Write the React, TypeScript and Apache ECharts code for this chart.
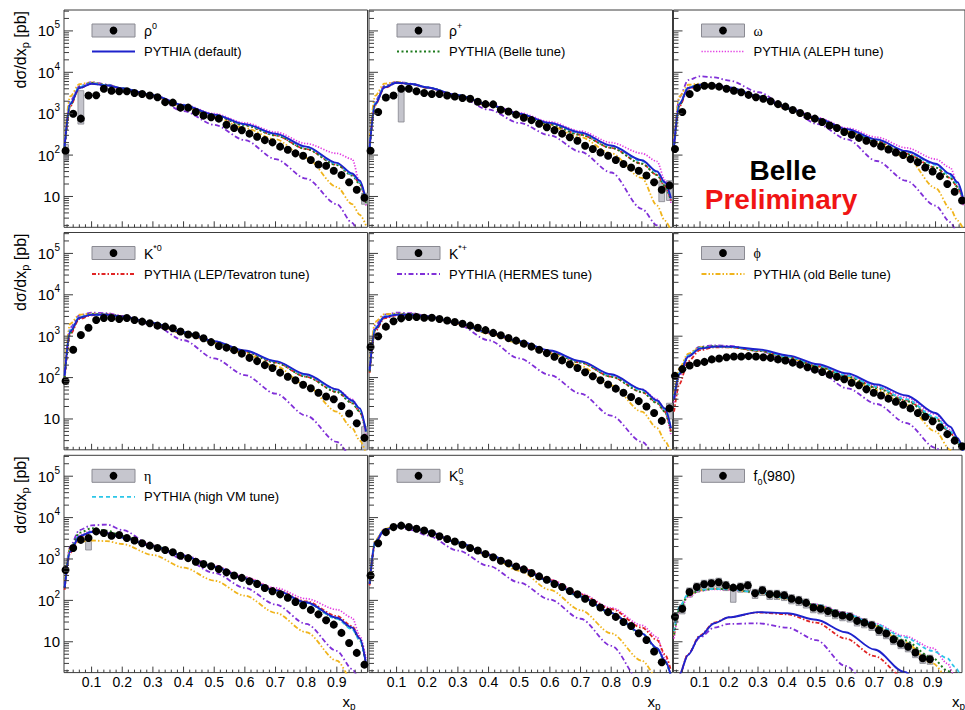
import React, { useEffect, useRef } from 'react';
import * as echarts from 'echarts';

// ---------- data ----------
const XP = [0.015, 0.04, 0.065, 0.09, 0.115, 0.14, 0.165, 0.19, 0.215, 0.24, 0.265, 0.29, 0.315, 0.34, 0.365, 0.39, 0.415, 0.44, 0.465, 0.49, 0.515, 0.54, 0.565, 0.59, 0.615, 0.64, 0.665, 0.69, 0.715, 0.74, 0.765, 0.79, 0.815, 0.84, 0.865, 0.89, 0.915, 0.94, 0.965, 0.99];
const CX = [0.012, 0.03, 0.06, 0.1, 0.15, 0.2, 0.3, 0.4, 0.5, 0.6, 0.7, 0.8, 0.9, 0.95, 0.975, 0.995];

const RHO0 = [127, 1000, 760, 2750, 2800, 4000, 3600, 3500, 3500, 3150, 3000, 2750, 2500, 1900, 1850, 1400, 1400, 1100, 900, 820, 760, 540, 450, 400, 330, 277, 230, 203, 160, 134, 110, 96, 76, 59, 55, 42, 33, 22, 14.5, 9.3];
const RHOP = [127, 1100, 2450, 2750, 4000, 4000, 3500, 3150, 3000, 3000, 2750, 2600, 2400, 2300, 1950, 1700, 1680, 1250, 1130, 950, 800, 700, 570, 470, 400, 330, 270, 222, 168, 140, 116, 96, 76, 61, 50, 42, 32, 22, 14.5, 18.5];
const OMEGA = [140, 1100, 3000, 4200, 4750, 4750, 4500, 4000, 3600, 3300, 2850, 2500, 2300, 2000, 1700, 1480, 1230, 1040, 880, 760, 630, 520, 450, 360, 310, 260, 222, 192, 162, 137, 116, 100, 80, 67, 50, 40, 31, 20, 13, 8];
const KST0 = [83, 470, 1070, 1600, 2450, 2750, 2750, 2600, 2750, 2450, 2250, 2050, 1800, 1700, 1550, 1300, 1100, 1050, 890, 720, 580, 530, 460, 380, 300, 250, 200, 170, 132, 105, 86, 67, 55, 43, 35, 30, 20.5, 13.6, 7.9, 3.5];
const KSTP = [550, 1000, 1700, 2300, 2700, 2900, 2900, 2800, 2800, 2600, 2400, 2200, 2000, 1800, 1600, 1400, 1200, 1050, 900, 780, 660, 560, 470, 390, 320, 260, 210, 170, 135, 108, 86, 68, 54, 43, 34, 27, 20, 14, 9, 18];
const PHI = [110, 160, 195, 225, 240, 275, 290, 310, 323, 323, 330, 323, 310, 300, 275, 258, 230, 206, 178, 156, 137, 118, 104, 91, 75, 65, 52, 43, 37, 31, 26, 22, 18, 14, 11.3, 8.8, 6.3, 4.3, 3, 2.2];
const ETA = [540, 1850, 2900, 3200, 4650, 4250, 3650, 3800, 3200, 2800, 2400, 2100, 1850, 1650, 1450, 1200, 1050, 860, 760, 665, 570, 475, 400, 350, 290, 250, 200, 167, 140, 116, 91, 76, 59, 46, 33, 26, 16.4, 9.3, 5.4, 2.8];
const K0S = [400, 2400, 4450, 5900, 6400, 5900, 5400, 4900, 4200, 3550, 3050, 2650, 2200, 1850, 1600, 1320, 1100, 910, 790, 660, 560, 460, 380, 315, 250, 210, 168, 140, 110, 87, 67, 52, 40, 30, 24, 16, 11, 5.8, 3.2, null];
const F0 = [40, 63, 160, 210, 245, 260, 275, 230, 203, 210, 230, 148, 175, 140, 140, 132, 110, 100, 87, 67, 63, 55, 48, 43, 40, 32, 29, 25, 19, 15.8, 11.4, 9.1, 7.6, 5.5, 4.0, 3.8, null, null, null, null];

// systematic boxes: [point index, low, high]
const RHO0_BOXES = [[0, 75, 180], [2, 560, 3600], [39, 6.5, 12]];
const RHOP_BOXES = [[4, 630, 3700], [38, 7.5, 24], [39, 8, 24]];
const KST0_BOXES = [[39, 1.8, 6.5]];
const KSTP_BOXES = [[39, 10, 24]];
const ETA_BOXES = [[3, 1650, 3300]];
const F0_BOXES = [[8, 90, 230]];

// PYTHIA curves, sampled at CX
const RHO0_MC = {
  def: [160, 1700, 4200, 5300, 4800, 4100, 2800, 1600, 950, 560, 330, 160, 65, 36, 24, 8],
  belle: [150, 1600, 4300, 5500, 4900, 4100, 2750, 1550, 900, 520, 300, 140, 58, 32, 20, 7],
  aleph: [150, 1700, 4300, 5500, 4900, 4100, 2800, 1650, 1000, 600, 360, 190, 110, 80, 22, 6],
  lep: [140, 1500, 4100, 5300, 4800, 4000, 2750, 1550, 900, 530, 300, 140, 58, 33, 21, 7],
  hermes: [180, 2000, 4600, 5800, 5100, 4100, 2600, 1150, 540, 230, 80, 27, 6.5, 2.3, 1.2, 0.6],
  oldBelle: [250, 2600, 5200, 5700, 4900, 4000, 2600, 1450, 820, 450, 240, 85, 17, 6.5, 3.6, 2],
  highVM: [170, 1800, 4400, 5400, 4900, 4100, 2800, 1600, 940, 550, 320, 155, 62, 34, 22, 8],
};
const RHOP_MC = {
  def: [150, 1700, 4300, 5600, 5200, 4300, 2800, 1650, 1000, 600, 350, 170, 75, 40, 22, 9],
  belle: [150, 1700, 4400, 5700, 5200, 4300, 2750, 1600, 950, 550, 310, 150, 62, 33, 18, 8],
  aleph: [150, 1800, 4400, 5700, 5200, 4300, 2800, 1700, 1050, 640, 380, 200, 110, 70, 25, 7],
  lep: [140, 1600, 4200, 5500, 5100, 4200, 2750, 1600, 950, 560, 310, 150, 62, 33, 18, 8],
  hermes: [180, 2000, 4700, 5900, 5300, 4300, 2700, 1250, 600, 300, 120, 38, 5, 2, 1, 0.6],
  oldBelle: [260, 2700, 5300, 5800, 5200, 4200, 2700, 1550, 900, 500, 270, 110, 28, 6, 2.6, 1.5],
  highVM: [160, 1800, 4400, 5600, 5200, 4300, 2800, 1650, 990, 590, 340, 165, 72, 38, 21, 9],
};
const OMEGA_MC = {
  def: [170, 1700, 4200, 5000, 4800, 4300, 2600, 1350, 760, 420, 240, 125, 62, 35, 22, 8],
  belle: [150, 1600, 4200, 5100, 4800, 4200, 2550, 1300, 720, 380, 210, 105, 50, 28, 17, 7],
  aleph: [160, 1700, 4300, 5100, 4900, 4300, 2600, 1400, 800, 450, 270, 150, 80, 50, 20, 6],
  lep: [140, 1500, 4000, 4900, 4700, 4200, 2550, 1300, 730, 390, 215, 108, 50, 28, 17, 7],
  hermes: [200, 2500, 6500, 8000, 7500, 6300, 3300, 1300, 560, 240, 72, 24, 6, 2.4, 1.3, 0.7],
  oldBelle: [250, 2600, 5000, 5300, 4900, 4200, 2500, 1300, 700, 370, 190, 90, 16, 5, 2.6, 1.6],
  highVM: [170, 1800, 4300, 5000, 4800, 4300, 2600, 1350, 760, 410, 235, 120, 58, 32, 20, 8],
};
const KST0_MC = {
  def: [110, 1300, 2800, 3300, 3300, 3000, 2100, 1250, 760, 450, 250, 120, 52, 28, 18, 5],
  belle: [100, 1200, 2800, 3400, 3400, 3000, 2050, 1200, 720, 420, 230, 105, 45, 24, 15, 5],
  aleph: [100, 1200, 2700, 3300, 3500, 3100, 2050, 1200, 730, 430, 240, 115, 52, 30, 16, 4],
  lep: [90, 1100, 2600, 3200, 3300, 3000, 2050, 1200, 730, 420, 230, 105, 45, 25, 15, 5],
  hermes: [130, 1600, 3200, 3700, 3600, 3100, 1900, 800, 290, 115, 41, 12, 2.8, 1.2, 0.7, 0.4],
  oldBelle: [180, 2000, 3300, 3500, 3400, 3000, 2000, 1150, 680, 380, 190, 65, 15, 6, 3, 1.5],
  highVM: [120, 1400, 2900, 3300, 3300, 3000, 2100, 1250, 750, 440, 245, 115, 50, 27, 17, 5],
};
const KSTP_MC = {
  def: [150, 1500, 2900, 3300, 3300, 3000, 2100, 1250, 760, 450, 250, 120, 52, 28, 18, 6],
  belle: [140, 1400, 2900, 3400, 3400, 3000, 2050, 1200, 720, 420, 230, 105, 45, 24, 15, 5],
  aleph: [140, 1400, 2800, 3300, 3500, 3100, 2050, 1200, 730, 430, 240, 115, 52, 30, 16, 4],
  lep: [130, 1300, 2700, 3200, 3300, 3000, 2050, 1200, 730, 420, 230, 105, 45, 25, 15, 5],
  hermes: [170, 1800, 3300, 3700, 3600, 3100, 1900, 800, 290, 115, 41, 12, 2.8, 1.2, 0.7, 0.4],
  oldBelle: [220, 2200, 3400, 3500, 3400, 3000, 2000, 1150, 680, 380, 190, 65, 15, 6, 3, 1.5],
  highVM: [160, 1600, 3000, 3300, 3300, 3000, 2100, 1250, 750, 440, 245, 115, 50, 27, 17, 6],
};
const PHI_MC = {
  def: [30, 120, 320, 500, 560, 560, 480, 340, 210, 125, 68, 37, 14, 6.5, 3.5, 1.5],
  belle: [30, 120, 330, 530, 570, 550, 450, 310, 185, 105, 56, 27, 10, 4.5, 2.6, 1.3],
  aleph: [25, 110, 320, 520, 580, 560, 460, 320, 200, 118, 64, 33, 13, 5.5, 3, 1.4],
  lep: [15, 70, 250, 460, 540, 540, 450, 310, 190, 108, 58, 28, 10.5, 4.6, 2.7, 1.3],
  hermes: [30, 130, 360, 560, 600, 580, 440, 270, 142, 55, 23, 8, 2, 0.9, 0.5, 0.3],
  oldBelle: [40, 170, 380, 540, 560, 540, 440, 300, 180, 100, 50, 22, 5, 1.8, 1.2, 0.8],
  highVM: [35, 130, 340, 520, 560, 550, 460, 320, 195, 112, 60, 30, 11, 5, 3, 1.4],
};
const ETA_MC = {
  def: [200, 1500, 3500, 4500, 4200, 3300, 2050, 1200, 650, 340, 175, 90, 38, 22, 12, 3],
  belle: [200, 1700, 4300, 5500, 4800, 3600, 2100, 1200, 650, 340, 175, 88, 37, 21, 11, 3],
  aleph: [200, 1600, 3800, 4800, 4400, 3400, 2100, 1250, 700, 370, 200, 110, 60, 38, 14, 4],
  lep: [180, 1400, 3400, 4500, 4200, 3300, 2100, 1200, 660, 350, 180, 95, 42, 24, 12, 3],
  hermes: [250, 2000, 5000, 6500, 6800, 5000, 2100, 1000, 460, 200, 80, 27, 6, 2.2, 1.2, 0.6],
  oldBelle: [300, 1800, 2600, 2800, 2700, 2300, 1250, 620, 300, 130, 50, 17, 3.5, 1.2, 0.8, 0.5],
  highVM: [220, 1600, 3600, 4600, 4200, 3300, 2050, 1200, 650, 340, 172, 87, 36, 20, 11, 3],
};
const K0S_MC = {
  def: [250, 2500, 5000, 6300, 5700, 4600, 2500, 1270, 620, 290, 125, 50, 16, 7, 3.5, 1.5],
  belle: [250, 2500, 5000, 6300, 5700, 4600, 2500, 1260, 615, 285, 123, 49, 15.5, 6.8, 3.4, 1.5],
  aleph: [250, 2500, 5000, 6300, 5800, 4700, 2550, 1300, 650, 320, 145, 66, 25, 13, 4, 1.5],
  lep: [230, 2400, 4900, 6300, 5700, 4600, 2500, 1280, 640, 310, 140, 62, 22, 11, 5, 2],
  hermes: [300, 2700, 5200, 6000, 5000, 3700, 1600, 680, 270, 105, 36, 8, 1, 0.5, 0.3, 0.2],
  oldBelle: [300, 2800, 5300, 6400, 5700, 4500, 2400, 1200, 520, 180, 58, 16, 3.5, 1.4, 0.8, 0.5],
  highVM: [280, 2600, 5100, 6300, 5700, 4600, 2500, 1270, 620, 290, 125, 50, 16, 7, 3.5, 1.5],
};
const F0_MC = {
  def: [0.3, 1.6, 4.8, 13.5, 28, 39, 52, 49, 34, 17, 6.5, 1.9, 0.4, 0.2, 0.1, 0.1],
  belle: [15, 60, 130, 175, 190, 185, 155, 115, 77, 46, 25, 11, 4, 2, 1.5, 1],
  aleph: [12, 55, 120, 170, 185, 180, 155, 115, 80, 50, 28, 14, 7, 3, 1.5, 1],
  lep: [0.3, 1.6, 5, 14, 29, 39, 51, 46, 29, 12, 4.5, 1.4, 0.4, 0.2, 0.1, 0.1],
  hermes: [0.3, 1.5, 5, 12.6, 22, 27, 28, 22, 11, 2.6, 0.6, 0.3, 0.2, 0.2, 0.1, 0.1],
  oldBelle: [14, 60, 130, 175, 190, 185, 150, 110, 74, 44, 24, 10, 3, 1.4, 1, 0.8],
  highVM: [18, 70, 140, 180, 190, 185, 155, 115, 78, 48, 27, 13, 6, 4, 2.5, 1.5],
};

// axis tick labels / positions
const X_LABELS = ['0.1', '0.2', '0.3', '0.4', '0.5', '0.6', '0.7', '0.8', '0.9'];
const Y_MAJOR = [10, 100, 1000, 10000, 100000];
const Y_MANTISSA = [2, 3, 4, 5, 6, 7, 8, 9];
const Y_DECADES = [1, 10, 100, 1000, 10000, 100000];

// ---------- styling / layout ----------
const FONT = '"Liberation Sans", Arial, Helvetica, sans-serif';
const SERIF = '"Liberation Serif", "Times New Roman", serif';
const XMIN = 0.01, XMAX = 1.0, YMIN = 1.8, YMAX = 320000;
const COL_LEFT = [64, 369, 673.5];
const ROW_TOP = [10, 232.5, 455.3];
const FRAME_W = 303.5, FRAME_H = 217.3;
const FRAME_COLOR = '#3c3c3c';

const TUNES = [
  { key: 'def', name: 'PYTHIA (default)', color: '#1e22cc', dash: 'solid', width: 1.9 },
  { key: 'belle', name: 'PYTHIA (Belle tune)', color: '#1d7a1d', dash: [2, 2.5], width: 2 },
  { key: 'aleph', name: 'PYTHIA (ALEPH tune)', color: '#e23ce2', dash: [1.3, 1.6], width: 1.7 },
  { key: 'lep', name: 'PYTHIA (LEP/Tevatron tune)', color: '#e02424', dash: [4, 2, 1.5, 2], width: 1.8 },
  { key: 'hermes', name: 'PYTHIA (HERMES tune)', color: '#8030d8', dash: [5, 2.5, 1.5, 2.5], width: 1.8 },
  { key: 'oldBelle', name: 'PYTHIA (old Belle tune)', color: '#f0b41c', dash: [5, 2, 1.5, 2, 1.5, 2], width: 1.8 },
  { key: 'highVM', name: 'PYTHIA (high VM tune)', color: '#2cc6e8', dash: [4, 3], width: 1.8 },
];
const DRAW_ORDER = ['hermes', 'oldBelle', 'aleph', 'lep', 'belle', 'highVM', 'def'];

const PANELS = [
  { data: RHO0, mc: RHO0_MC, label: 'ρ{sup|0}', font: FONT, tune: 0, sys: 0.1, boxes: RHO0_BOXES },
  { data: RHOP, mc: RHOP_MC, label: 'ρ{sup|+}', font: FONT, tune: 1, sys: 0.1, boxes: RHOP_BOXES },
  { data: OMEGA, mc: OMEGA_MC, label: 'ω', font: SERIF, tune: 2, sys: 0.08, boxes: [] },
  { data: KST0, mc: KST0_MC, label: 'K{sup|*0}', font: FONT, tune: 3, sys: 0.08, boxes: KST0_BOXES },
  { data: KSTP, mc: KSTP_MC, label: 'K{sup|*+}', font: FONT, tune: 4, sys: 0.1, boxes: KSTP_BOXES },
  { data: PHI, mc: PHI_MC, label: 'ϕ', font: SERIF, tune: 5, sys: 0.06, boxes: [] },
  { data: ETA, mc: ETA_MC, label: 'η', font: SERIF, tune: 6, sys: 0.1, boxes: ETA_BOXES },
  { data: K0S, mc: K0S_MC, label: 'K{sup|0}', font: FONT, tune: -1, sys: 0.08, boxes: [], sub: 's' },
  { data: F0, mc: F0_MC, label: 'f{sub|0}(980)', font: FONT, tune: -1, sys: 0.25, boxes: F0_BOXES },
];

function buildTicks() {
  const t: number[][] = [];
  Y_MAJOR.forEach((v) => t.push([XMIN, v, 0]));
  Y_DECADES.forEach((d) => Y_MANTISSA.forEach((m) => {
    const v = d * m;
    if (v > YMIN && v < YMAX) t.push([XMIN, v, 1]);
  }));
  for (let k = 1; k < 50; k++) {
    const v = k * 0.02;
    if (v <= XMIN || v >= XMAX) continue;
    const major = Math.abs(v * 10 - Math.round(v * 10)) < 1e-6;
    t.push([v, YMIN, major ? 2 : 3]);
  }
  return t;
}

function tickRender(params: any, api: any) {
  const p = api.coord([api.value(0), api.value(1)]);
  const t = api.value(2);
  let shape;
  if (t === 0) shape = { x1: p[0], y1: p[1], x2: p[0] + 9, y2: p[1] };
  else if (t === 1) shape = { x1: p[0], y1: p[1], x2: p[0] + 5, y2: p[1] };
  else if (t === 2) shape = { x1: p[0], y1: p[1], x2: p[0], y2: p[1] - 6 };
  else shape = { x1: p[0], y1: p[1], x2: p[0], y2: p[1] - 3 };
  return { type: 'line', shape, style: { stroke: FRAME_COLOR, lineWidth: 1 } };
}

function boxRender(params: any, api: any) {
  const x = api.value(0);
  const p1 = api.coord([x - 0.0095, api.value(3)]);
  const p2 = api.coord([x + 0.0095, api.value(2)]);
  return {
    type: 'rect',
    shape: { x: p1[0], y: p1[1], width: p2[0] - p1[0], height: p2[1] - p1[1] },
    style: { fill: '#c4c4cc', stroke: '#85858d', lineWidth: 0.8 },
  };
}

function yFormatter(v: number) {
  const l = Math.log10(v);
  const e = Math.round(l);
  if (Math.abs(l - e) > 1e-4 || e < 1) return '';
  if (e === 1) return '{b|10}';
  return '{b|10}{sup|' + e + '}';
}

function xFormatter(v: number) {
  const i = Math.round(v * 10) - 1;
  if (Math.abs(v * 10 - Math.round(v * 10)) > 1e-6) return '';
  return X_LABELS[i] || '';
}

function buildOption() {
  const grid: any[] = [], xAxis: any[] = [], yAxis: any[] = [], series: any[] = [], graphic: any[] = [];
  const ticks = buildTicks();
  PANELS.forEach((p, i) => {
    const row = Math.floor(i / 3), col = i % 3;
    const L = COL_LEFT[col], T = ROW_TOP[row];
    grid.push({ left: L, top: T, width: FRAME_W, height: FRAME_H, show: true, borderColor: FRAME_COLOR, borderWidth: 1, backgroundColor: '#ffffff' });
    xAxis.push({
      gridIndex: i, type: 'value', min: XMIN, max: XMAX, splitNumber: 10,
      axisLine: { show: false }, axisTick: { show: false }, splitLine: { show: false },
      axisLabel: { show: row === 2, formatter: xFormatter, fontSize: 14, color: '#000', fontFamily: FONT, margin: 2 },
    });
    yAxis.push({
      gridIndex: i, type: 'log', logBase: 10, min: YMIN, max: YMAX,
      axisLine: { show: false }, axisTick: { show: false }, splitLine: { show: false },
      axisLabel: {
        show: col === 0, formatter: yFormatter, margin: 4, color: '#000', fontFamily: FONT, fontSize: 15,
        rich: {
          b: { fontSize: 15, lineHeight: 22, fontFamily: FONT, color: '#000' },
          sup: { fontSize: 10, lineHeight: 10, verticalAlign: 'top', fontFamily: FONT, color: '#000' },
        },
      },
    });
    // systematic boxes
    const boxData: any[] = [];
    p.data.forEach((v, j) => {
      if (v == null) return;
      const special = p.boxes.find((b) => b[0] === j);
      if (special) boxData.push([XP[j], v, special[1], special[2]]);
      else boxData.push([XP[j], v, v * (1 - p.sys), v * (1 + p.sys)]);
    });
    series.push({ type: 'custom', xAxisIndex: i, yAxisIndex: i, renderItem: boxRender, data: boxData, encode: { x: 0, y: 1 }, clip: true, z: 2, silent: true });
    // PYTHIA curves
    DRAW_ORDER.forEach((k) => {
      const tune = TUNES.find((t) => t.key === k)!;
      series.push({
        type: 'line', xAxisIndex: i, yAxisIndex: i, silent: true, z: 3,
        data: CX.map((x, j) => [x, (p.mc as any)[k][j]]),
        showSymbol: false, symbol: 'none', smooth: 0.3, smoothMonotone: 'x', clip: true,
        lineStyle: { color: tune.color, width: tune.width, type: tune.dash, opacity: 1 },
      });
    });
    // data points
    series.push({
      type: 'scatter', xAxisIndex: i, yAxisIndex: i, silent: true, z: 4,
      data: XP.map((x, j) => [x, p.data[j]]).filter((d) => d[1] != null),
      symbol: 'circle', symbolSize: 8, itemStyle: { color: '#000', opacity: 1 },
    });
    // ticks
    series.push({ type: 'custom', xAxisIndex: i, yAxisIndex: i, renderItem: tickRender, data: ticks, encode: { x: 0, y: 1 }, clip: false, z: 5, silent: true });

    // legend
    graphic.push({ type: 'rect', shape: { x: L + 28, y: T + 14, width: 43, height: 13 }, style: { fill: '#c6c6ce', stroke: '#8a8a92', lineWidth: 1 }, z: 10 });
    graphic.push({ type: 'circle', shape: { cx: L + 49.5, cy: T + 20.5, r: 3.9 }, style: { fill: '#000' }, z: 11 });
    graphic.push({
      type: 'text', x: L + 80, y: T + 21, z: 11,
      style: {
        text: p.label, fontSize: 14, fontFamily: p.font, fill: '#000', align: 'left', verticalAlign: 'middle', lineHeight: 20,
        rich: {
          sup: { fontSize: 9, lineHeight: 9, verticalAlign: 'top', fontFamily: FONT, fill: '#000' },
          sub: { fontSize: 9, lineHeight: 9, verticalAlign: 'bottom', fontFamily: FONT, fill: '#000' },
        },
      },
    });
    if (p.sub) {
      graphic.push({ type: 'text', x: L + 90, y: T + 26.5, z: 11, style: { text: p.sub, fontSize: 9, fontFamily: FONT, fill: '#000', align: 'left', verticalAlign: 'middle' } });
    }
    if (p.tune >= 0) {
      const tn = TUNES[p.tune];
      graphic.push({ type: 'line', shape: { x1: L + 28, y1: T + 41.5, x2: L + 71, y2: T + 41.5 }, style: { stroke: tn.color, lineWidth: tn.width, lineDash: tn.dash === 'solid' ? null : tn.dash }, z: 11 });
      graphic.push({ type: 'text', x: L + 80, y: T + 41.5, z: 11, style: { text: tn.name, fontSize: 13, fontFamily: FONT, fill: '#000', align: 'left', verticalAlign: 'middle' } });
    }
    // axis titles
    if (col === 0) {
      graphic.push({
        type: 'text', x: 20, y: T + 1, rotation: Math.PI / 2, z: 11,
        style: {
          text: 'dσ/dx{sub|p} [pb]', fontSize: 16, fontFamily: FONT, fill: '#000', align: 'right', verticalAlign: 'middle', lineHeight: 20,
          rich: { sub: { fontSize: 11, lineHeight: 11, verticalAlign: 'bottom', fontFamily: FONT, fill: '#000' } },
        },
      });
    }
    if (row === 2) {
      graphic.push({
        type: 'text', x: L + FRAME_W - 12, y: 701, z: 11,
        style: {
          text: 'x{sub|p}', fontSize: 15, fontFamily: FONT, fill: '#000', align: 'right', verticalAlign: 'middle', lineHeight: 20,
          rich: { sub: { fontSize: 10, lineHeight: 10, verticalAlign: 'bottom', fontFamily: FONT, fill: '#000' } },
        },
      });
    }
  });
  graphic.push({ type: 'text', x: 783, y: 170, z: 12, style: { text: 'Belle', fontSize: 28, fontWeight: 'bold', fontFamily: FONT, fill: '#000', align: 'center', verticalAlign: 'middle' } });
  graphic.push({ type: 'text', x: 781, y: 199, z: 12, style: { text: 'Preliminary', fontSize: 28, fontWeight: 'bold', fontFamily: FONT, fill: '#f01414', align: 'center', verticalAlign: 'middle' } });

  return { animation: false, backgroundColor: '#ffffff', grid, xAxis, yAxis, series, graphic };
}

export default function App() {
  const ref = useRef<HTMLDivElement>(null);
  useEffect(() => {
    if (!ref.current) return;
    const chart = echarts.init(ref.current, null, { renderer: 'svg' });
    chart.setOption(buildOption() as any);
    return () => chart.dispose();
  }, []);
  return <div ref={ref} style={{ position: 'absolute', left: 0, top: 0, width: 965, height: 710, background: '#fff' }} />;
}
